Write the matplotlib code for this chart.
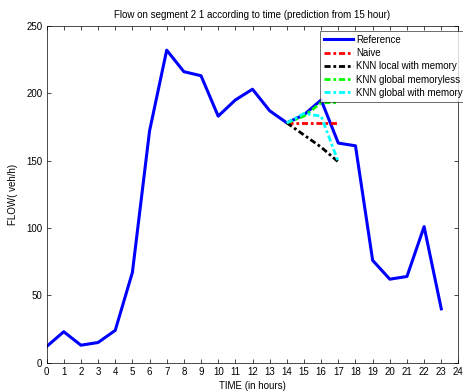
import matplotlib
matplotlib.use('Agg')
import matplotlib.pyplot as plt

plt.rcParams['font.family'] = ['Liberation Sans', 'DejaVu Sans']

# Data
hours = list(range(24))
reference = [12, 23, 13, 15, 24, 67, 172, 232, 216, 213, 183, 195, 203, 187,
             178, 184, 195, 163, 161, 76, 62, 64, 101, 40]

pred_hours = [14, 15, 16, 17]
naive = [178, 178, 178, 178]
knn_local_mem = [178, 169, 160, 149]
knn_global_nomem = [178, 183, 193, 193]
knn_global_mem = [178, 185, 183, 149]

xticks = list(range(25))
yticks = [0, 50, 100, 150, 200, 250]

dashdot = (0, (2.2, 1, 1, 1))

fig = plt.figure(figsize=(4.64, 3.92), dpi=100)
ax = fig.add_axes([0.1004, 0.0747, 0.8876, 0.8593])

ax.plot(hours, reference, color='#0000ff', lw=2.2, label='Reference')
ax.plot(pred_hours, naive, color='#ff0000', lw=2, ls=dashdot, label='Naive')
ax.plot(pred_hours, knn_local_mem, color='black', lw=2, ls=dashdot, label='KNN local with memory')
ax.plot(pred_hours, knn_global_nomem, color='#00ff00', lw=2, ls=dashdot, label='KNN global memoryless')
ax.plot(pred_hours, knn_global_mem, color='#00ffff', lw=2, ls=dashdot, label='KNN global with memory')

ax.set_xlim(0, 24)
ax.set_ylim(0, 250)
ax.set_xticks(xticks)
ax.set_yticks(yticks)
ax.tick_params(direction='in', top=True, right=True, labelsize=7, length=3, width=0.5, pad=3)
for s in ax.spines.values():
    s.set_linewidth(0.5)

ax.set_title('Flow on segment 2 1 according to time (prediction from 15 hour)', fontsize=7, pad=6)
ax.set_xlabel('TIME (in hours)', fontsize=7, labelpad=3)
ax.set_ylabel('FLOW( veh/h)', fontsize=7, labelpad=6)

leg = ax.legend(loc='upper left', bbox_to_anchor=(320 / 464, 1 - 31 / 392),
                bbox_transform=fig.transFigure, fontsize=7, frameon=True,
                fancybox=False, edgecolor='black', handlelength=3.0,
                handletextpad=0.3, labelspacing=0.33, borderpad=0.4,
                borderaxespad=0)
leg.get_frame().set_linewidth(0.5)

fig.savefig('out.png', dpi=100)
